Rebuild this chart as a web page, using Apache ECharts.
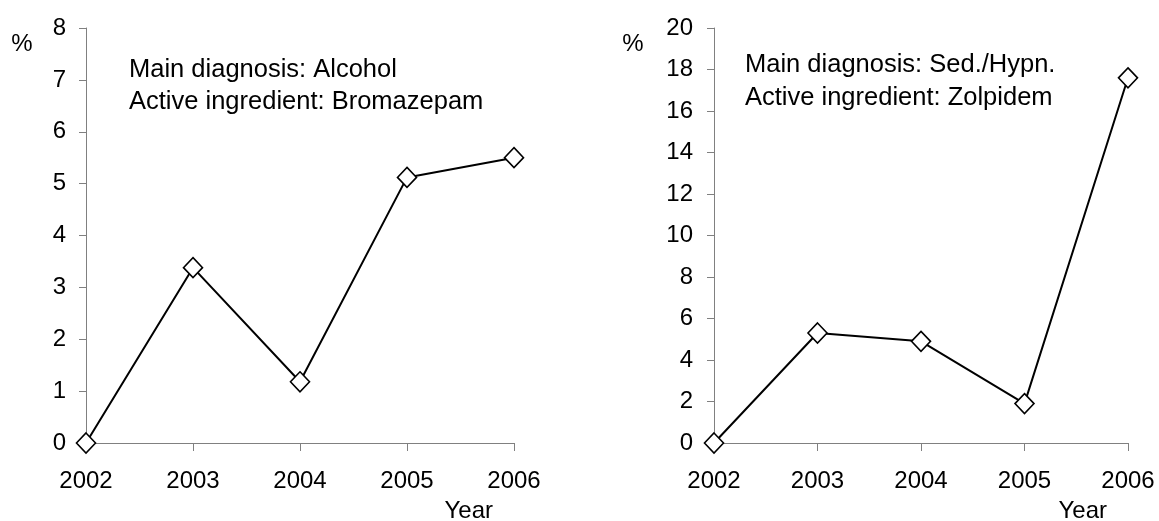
<!DOCTYPE html>
<html>
<head>
<meta charset="utf-8">
<script src="https://cdn.jsdelivr.net/npm/echarts@6/dist/echarts.min.js"></script>
<style>
html,body{margin:0;padding:0;background:#fff;}
#chart{width:1159px;height:521px;}
</style>
</head>
<body>
<div id="chart"></div>
<script>
var years = ['2002', '2003', '2004', '2005', '2006'];
var alcoholBromazepam = [0, 3.38, 1.18, 5.12, 5.5];
var sedHypnZolpidem = [0, 5.3, 4.9, 1.9, 17.6];
var leftNote = ['Main diagnosis: Alcohol', 'Active ingredient: Bromazepam'];
var rightNote = ['Main diagnosis: Sed./Hypn.', 'Active ingredient: Zolpidem'];
var unitLabel = '%';
var xName = 'Year';

var FONT = '"Liberation Sans", Arial, sans-serif';
var chart = echarts.init(document.getElementById('chart'), null, {renderer: 'canvas'});

function xAxisCfg(idx) {
  return {
    type: 'category', gridIndex: idx, data: years, boundaryGap: false,
    axisLine: {lineStyle: {color: '#808080', width: 1}},
    axisTick: {show: true, inside: false, length: 8, lineStyle: {color: '#808080'}},
    axisLabel: {color: '#000', fontSize: 24, fontFamily: FONT, margin: 26},
    splitLine: {show: false}
  };
}
function yAxisCfg(idx, max, interval, margin) {
  return {
    type: 'value', gridIndex: idx, min: 0, max: max, interval: interval,
    axisLine: {show: true, lineStyle: {color: '#808080', width: 1}},
    axisTick: {show: true, inside: false, length: 7, lineStyle: {color: '#808080'}},
    axisLabel: {color: '#000', fontSize: 24, fontFamily: FONT, margin: margin},
    splitLine: {show: false}
  };
}
function lineSeries(idx, data) {
  return {
    type: 'line', xAxisIndex: idx, yAxisIndex: idx, data: data,
    symbol: 'diamond', symbolSize: [19, 20], showAllSymbol: true,
    lineStyle: {color: '#000', width: 2},
    itemStyle: {color: '#fff', borderColor: '#000', borderWidth: 1.6},
    animation: false, z: 5
  };
}

chart.setOption({
  backgroundColor: '#fff',
  animation: false,
  grid: [
    {left: 86, top: 28, width: 428, height: 415},
    {left: 714, top: 28, width: 414, height: 415}
  ],
  xAxis: [xAxisCfg(0), xAxisCfg(1)],
  yAxis: [yAxisCfg(0, 8, 1, 20), yAxisCfg(1, 20, 2, 21)],
  series: [lineSeries(0, alcoholBromazepam), lineSeries(1, sedHypnZolpidem)],
  graphic: [
    {type: 'text', x: 22, y: 44, style: {text: unitLabel, fill: '#000', font: '24px ' + FONT, align: 'center', verticalAlign: 'middle'}},
    {type: 'text', x: 633, y: 44, style: {text: unitLabel, fill: '#000', font: '24px ' + FONT, align: 'center', verticalAlign: 'middle'}},
    {type: 'text', x: 129, y: 70, style: {text: leftNote[0], fill: '#000', font: '25.5px ' + FONT, align: 'left', verticalAlign: 'middle'}},
    {type: 'text', x: 129, y: 102, style: {text: leftNote[1], fill: '#000', font: '25.5px ' + FONT, align: 'left', verticalAlign: 'middle'}},
    {type: 'text', x: 745, y: 65, style: {text: rightNote[0], fill: '#000', font: '25.5px ' + FONT, align: 'left', verticalAlign: 'middle'}},
    {type: 'text', x: 745, y: 98, style: {text: rightNote[1], fill: '#000', font: '25.5px ' + FONT, align: 'left', verticalAlign: 'middle'}},
    {type: 'text', x: 493, y: 511, style: {text: xName, fill: '#000', font: '24px ' + FONT, align: 'right', verticalAlign: 'middle'}},
    {type: 'text', x: 1107, y: 511, style: {text: xName, fill: '#000', font: '24px ' + FONT, align: 'right', verticalAlign: 'middle'}}
  ]
});
</script>
</body>
</html>
